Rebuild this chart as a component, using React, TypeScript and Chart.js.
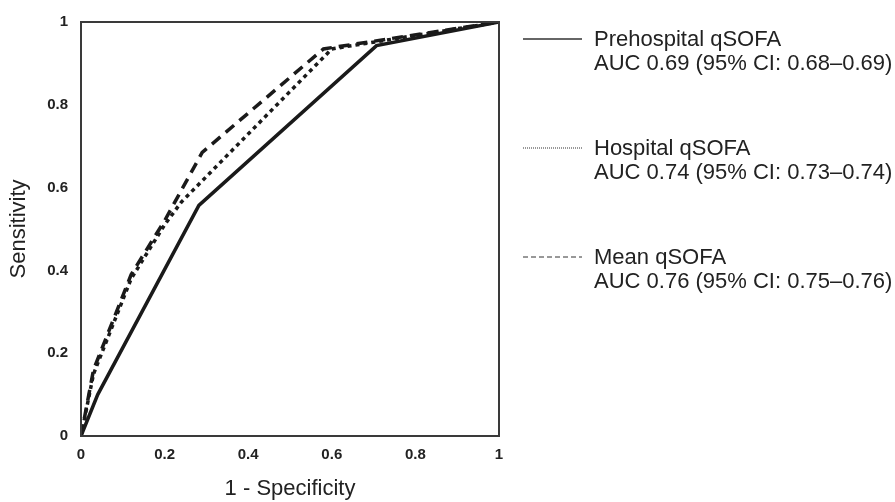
import React, { useEffect, useRef } from "react";
import { Chart, registerables } from "chart.js";

Chart.register(...registerables);

const prehospitalX = [0, 0.04, 0.282, 0.707, 1];
const prehospitalY = [0, 0.1, 0.557, 0.943, 1];

const hospitalX = [0, 0.03, 0.12, 0.2, 0.24, 0.6, 1];
const hospitalY = [0, 0.15, 0.38, 0.51, 0.565, 0.935, 1];

const meanX = [0, 0.03, 0.12, 0.2, 0.29, 0.58, 1];
const meanY = [0, 0.16, 0.39, 0.52, 0.685, 0.935, 1];

const legendNames = ["Prehospital qSOFA", "Hospital qSOFA", "Mean qSOFA"];
const legendAUC = [
  "AUC 0.69 (95% CI: 0.68–0.69)",
  "AUC 0.74 (95% CI: 0.73–0.74)",
  "AUC 0.76 (95% CI: 0.75–0.76)",
];
const legendDash: number[][] = [[], [1, 1], [5, 3]];

const xTitle = "1 - Specificity";
const yTitle = "Sensitivity";

const toPoints = (xs: number[], ys: number[]) => xs.map((x, i) => ({ x, y: ys[i] }));

const boxPlugin = {
  id: "boxAndLegend",
  afterDraw(chart: any) {
    const { ctx, chartArea } = chart;
    ctx.save();
    ctx.strokeStyle = "#3a3a3a";
    ctx.lineWidth = 2;
    ctx.strokeRect(chartArea.left, chartArea.top, chartArea.right - chartArea.left, chartArea.bottom - chartArea.top);
    // legend
    const baseY = [46, 155, 264];
    ctx.font = "22px Arial, 'Liberation Sans', sans-serif";
    ctx.fillStyle = "#222";
    ctx.textBaseline = "alphabetic";
    ctx.textAlign = "left";
    for (let i = 0; i < legendNames.length; i++) {
      const b = baseY[i];
      ctx.beginPath();
      ctx.setLineDash(legendDash[i]);
      ctx.lineWidth = i === 0 ? 1.5 : 1;
      ctx.strokeStyle = "#333";
      ctx.moveTo(523, b - 7);
      ctx.lineTo(582, b - 7);
      ctx.stroke();
      ctx.setLineDash([]);
      ctx.fillText(legendNames[i], 594, b);
      ctx.fillText(legendAUC[i], 594, b + 24);
    }
    ctx.restore();
  },
};

const fmt = (v: any) => String(Number(Number(v).toFixed(1)));

export default function App() {
  const ref = useRef<HTMLCanvasElement>(null);
  useEffect(() => {
    if (!ref.current) return;
    const tickFont = { family: "Arial, 'Liberation Sans', sans-serif", size: 15, weight: "bold" as const };
    const titleFont = { family: "Arial, 'Liberation Sans', sans-serif", size: 22 };
    const chart = new Chart(ref.current, {
      type: "line",
      data: {
        datasets: [
          {
            label: legendNames[0],
            data: toPoints(prehospitalX, prehospitalY),
            borderColor: "#1a1a1a",
            borderWidth: 3.5,
            pointRadius: 0,
            tension: 0,
          },
          {
            label: legendNames[1],
            data: toPoints(hospitalX, hospitalY),
            borderColor: "#1a1a1a",
            borderWidth: 3.5,
            borderDash: [4, 4],
            pointRadius: 0,
            tension: 0,
          },
          {
            label: legendNames[2],
            data: toPoints(meanX, meanY),
            borderColor: "#1a1a1a",
            borderWidth: 3.5,
            borderDash: [11, 7],
            pointRadius: 0,
            tension: 0,
          },
        ],
      },
      options: {
        animation: false,
        responsive: false,
        layout: { padding: { top: 18, right: 396, left: 0, bottom: 0 } },
        plugins: { legend: { display: false }, tooltip: { enabled: false } },
        scales: {
          x: {
            type: "linear",
            min: 0,
            max: 1,
            grid: { display: false, drawTicks: false },
            border: { display: false },
            ticks: { stepSize: 0.2, font: tickFont, color: "#222", padding: 10, maxRotation: 0, callback: fmt },
            title: { display: true, text: xTitle, font: titleFont, color: "#222", padding: { top: 0, bottom: 0 } },
            afterFit: (s: any) => {
              s.height = 66;
            },
          },
          y: {
            type: "linear",
            min: 0,
            max: 1,
            grid: { display: false, drawTicks: false },
            border: { display: false },
            ticks: { stepSize: 0.2, font: tickFont, color: "#222", padding: 13, callback: fmt },
            title: { display: true, text: yTitle, font: titleFont, color: "#222", padding: { top: 6, bottom: 0 } },
            afterFit: (s: any) => {
              s.width = 81;
            },
          },
        },
      },
      plugins: [boxPlugin],
    });
    return () => chart.destroy();
  }, []);
  return (
    <div style={{ position: "absolute", left: 0, top: 0, width: 895, height: 502, background: "#fff" }}>
      <canvas ref={ref} width={895} height={502} />
    </div>
  );
}
